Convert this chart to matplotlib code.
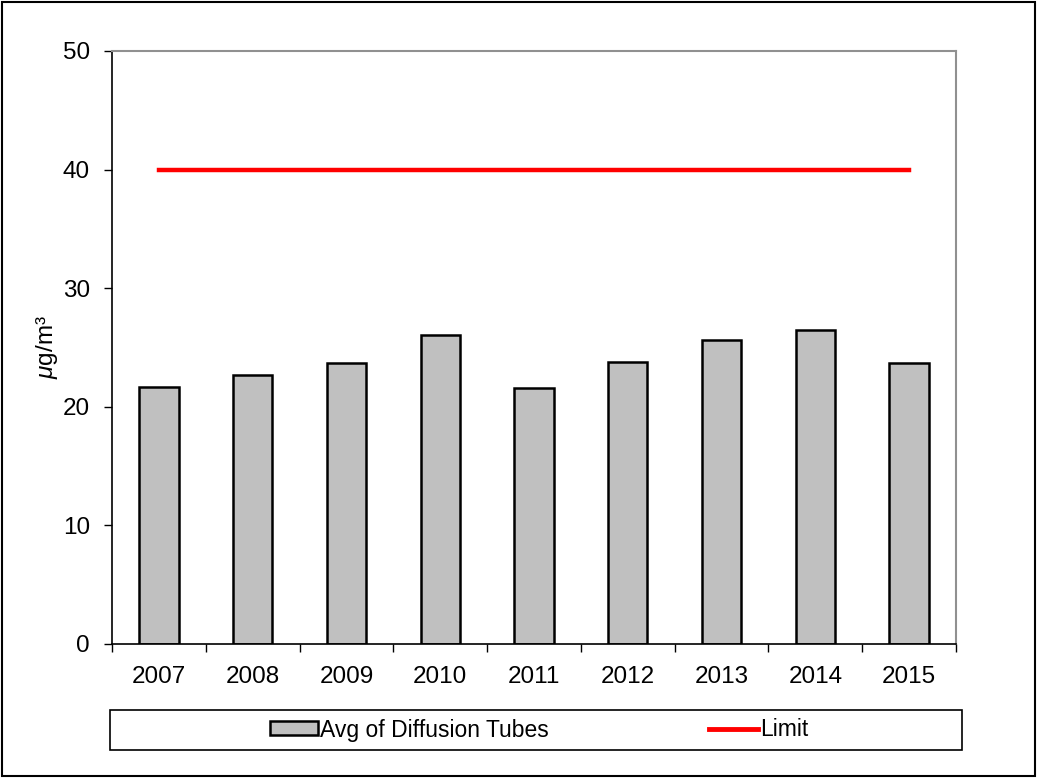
import matplotlib
matplotlib.use('Agg')
import matplotlib.pyplot as plt
from matplotlib.patches import Rectangle
from matplotlib.lines import Line2D
import numpy as np

years = ['2007', '2008', '2009', '2010', '2011', '2012', '2013', '2014', '2015']
avg_tubes = [21.7, 22.7, 23.7, 26.05, 21.6, 23.8, 25.6, 26.45, 23.7]
limit = [40, 40, 40, 40, 40, 40, 40, 40, 40]

plt.rcParams['font.family'] = ['Liberation Sans', 'DejaVu Sans']
plt.rcParams['mathtext.fontset'] = 'custom'
plt.rcParams['mathtext.rm'] = 'Liberation Sans'
plt.rcParams['mathtext.it'] = 'Liberation Sans:italic'
fs = 17.5
lfs = 16.5

fig = plt.figure(figsize=(10.37, 7.78), dpi=100)
W, H = 1037, 778
ax = fig.add_axes([112 / W, 1 - 644 / H, (956 - 112) / W, (644 - 51) / H])

x = np.arange(len(years))
ax.bar(x, avg_tubes, width=0.42, color='#c0c0c0', edgecolor='black', linewidth=1.8,
       label='Avg of Diffusion Tubes', zorder=2)
ax.plot(x, limit, color='#ff0000', linewidth=3.2, label='Limit', zorder=3)

ax.set_xlim(-0.5, len(years) - 0.5)
ax.set_ylim(0, 50)
ax.set_yticks([0, 10, 20, 30, 40, 50])
ax.set_xticks(x)
ax.set_xticklabels(years)
ax.set_xticks(np.arange(-0.5, len(years)), minor=True)
ax.tick_params(axis='x', which='major', length=0, pad=16, labelsize=fs)
ax.tick_params(axis='x', which='minor', length=6, width=1, direction='out')
ax.tick_params(axis='y', length=6, width=1, direction='out', pad=10, labelsize=fs)
ax.set_ylabel('$\\mu$g/m³', fontsize=fs, labelpad=2)

for s in ['top', 'right']:
    ax.spines[s].set_color('#909090')
    ax.spines[s].set_linewidth(1.5)
for s in ['left', 'bottom']:
    ax.spines[s].set_color('black')
    ax.spines[s].set_linewidth(1.2)

# legend box
fig.patches.append(Rectangle((110 / W, 1 - 750 / H), (962 - 110) / W, 40 / H,
                             transform=fig.transFigure, fill=False,
                             edgecolor='black', linewidth=1.2))
handles = [Rectangle((0, 0), 1, 1, facecolor='#c0c0c0', edgecolor='black', linewidth=1.8),
           Line2D([], [], color='#ff0000', linewidth=3.5)]
fig.legend(handles, ['Avg of Diffusion Tubes', 'Limit'], loc='center',
           bbox_to_anchor=(539 / W, 1 - 730 / H), ncol=2, frameon=False,
           fontsize=lfs, handlelength=2.1, handleheight=0.55, handletextpad=0.1,
           columnspacing=7.0)

# outer border
fig.patches.append(Rectangle((2 / W, 2 / H), (W - 4) / W, (H - 4) / H,
                             transform=fig.transFigure, fill=False,
                             edgecolor='black', linewidth=1.5))

fig.savefig('out.png', dpi=100)
